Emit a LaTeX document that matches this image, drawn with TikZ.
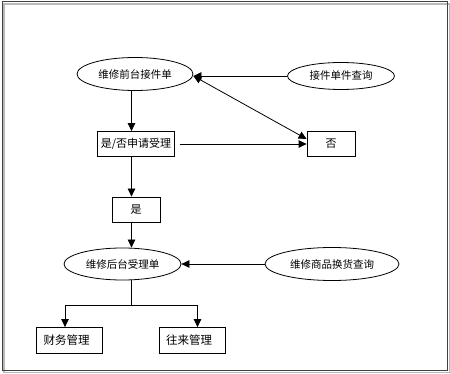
\documentclass[tikz,border=0pt]{standalone}
\usepackage{fontspec}
\setmainfont{Noto Sans CJK SC}
\usetikzlibrary{arrows.meta,shapes.geometric}

\begin{document}
\begin{tikzpicture}[x=1pt,y=-1pt,line width=0.8pt,>={Triangle[length=8pt,width=7.5pt]},
  form/.style={draw, ellipse, inner sep=0pt, font=\fontsize{10.5}{12}\selectfont},
  stepbox/.style={draw, rectangle, inner sep=0pt, minimum height=25pt, font=\fontsize{11}{13}\selectfont},
  listbox/.style={draw, rectangle, minimum height=26pt, inner xsep=7pt, text width=52pt, align=left, font=\fontsize{11.5}{13}\selectfont}]
  \useasboundingbox (0,0) rectangle (450,374);
  % frame
  \draw[gray!55, line width=1.4pt] (4,4) rectangle (449.2,372.4);
  \draw[black!75, line width=1pt] (2,2) rectangle (447.5,370.5);

  \node (front) [form, minimum width=116pt, minimum height=33pt] at (135,74) {维修前台接件单};
  \node (query) [form, minimum width=107pt, minimum height=27pt] at (341,76) {接件单件查询};
  \node (apply) [stepbox, minimum width=77pt] at (136,144) {是/否申请受理};
  \node (no)    [stepbox, minimum width=48pt] at (331,144) {否};
  \node (yes)   [stepbox, minimum width=48pt] at (136,209.5) {是};
  \node (back)  [form, minimum width=117pt, minimum height=32pt] at (122.5,264) {维修后台受理单};
  \node (swap)  [form, minimum width=134pt, minimum height=33pt] at (332,264) {维修商品换货查询};
  \node (fin)   [listbox] at (69.5,340.5) {财务管理};
  \node (deal)  [listbox] at (192,340.5) {往来管理};
  \coordinate (split) at (131.5,305);

  \draw[->] (query.west) -- (query.west -| front.east);
  \draw[->] (front.south -| split) -- (apply.north -| split);
  \draw[->, shorten <=5pt] (apply.east) -- (no.west);
  \draw[<->] ([yshift=-2pt]front.east) -- ([yshift=5pt]no.west);
  \draw[->] (apply.south -| split) -- (yes.north -| split);
  \draw[->] (yes.south -| split) -- (back.north -| split);
  \draw[->] (swap.west) -- (back.east);
  \draw (back.south -| split) -- (split);
  \draw[->] (split) -| ([xshift=-4.5pt]fin.north);
  \draw[->] (split) -| ([xshift=5.5pt]deal.north);
\end{tikzpicture}
\end{document}
